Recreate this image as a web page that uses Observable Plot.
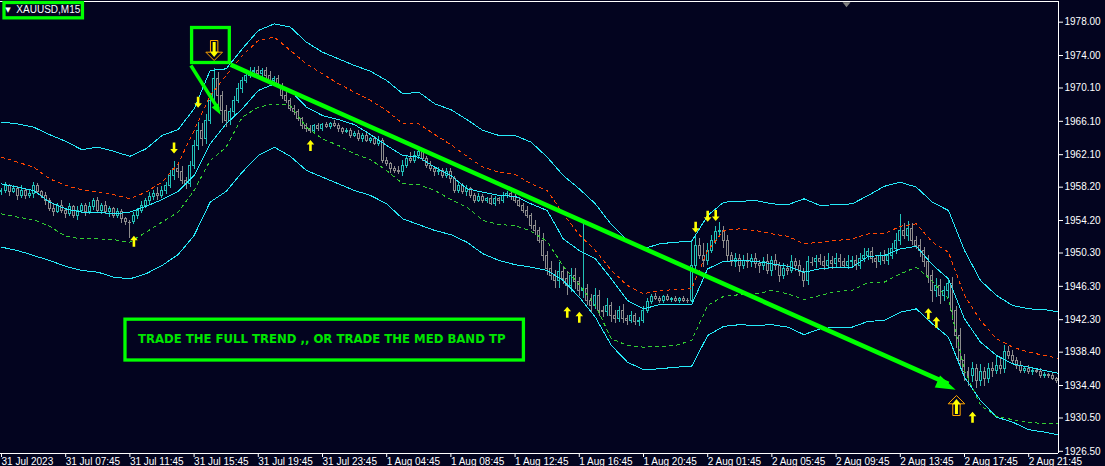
<!DOCTYPE html>
<html><head><meta charset="utf-8">
<script src="https://cdn.jsdelivr.net/npm/d3@7"></script>
<script src="https://cdn.jsdelivr.net/npm/@observablehq/plot@0.6"></script>
<style>
html,body{margin:0;padding:0;background:#03041f;}
#chart{width:1105px;height:466px;overflow:hidden;}
</style></head><body><div id="chart"></div>
<script>
// ---------- data ----------
const firstOpen = 1957.6;
const closes = [
1957.8,1958.3,1957.6,1958.0,1957.2,1957.8,1957.1,1957.4,1958.3,1957.6,1957.2,1956.6,1955.6,1955.2,1956.0,1955.4,
1955.0,1955.8,1954.8,1955.4,1956.0,1955.2,1955.8,1956.6,1955.4,1956.0,1955.2,1955.6,1954.8,1955.2,1954.4,1954.0,
1954.0,1954.8,1955.4,1956.0,1956.6,1957.0,1957.4,1957.2,1957.8,1958.4,1959.6,1960.4,1960.0,1959.0,1958.6,1960.8,
1963.2,1965.0,1964.0,1966.2,1968.6,1971.2,1969.2,1967.4,1966.2,1967.2,1968.6,1970.0,1971.0,1971.6,1972.0,1972.2,
1971.8,1972.2,1971.6,1971.0,1971.2,1970.4,1969.2,1968.6,1967.6,1967.2,1966.4,1965.6,1965.2,1965.0,1965.5,1965.2,
1965.7,1965.4,1965.8,1965.6,1965.2,1964.8,1965.0,1964.4,1964.6,1964.0,1964.4,1963.8,1964.0,1963.4,1963.8,1961.4,
1961.0,1960.4,1960.2,1960.0,1960.8,1961.6,1961.4,1962.0,1962.4,1961.6,1960.8,1960.4,1960.0,1960.2,1959.6,1960.0,
1959.2,1957.8,1958.4,1957.6,1958.0,1957.2,1956.6,1957.0,1956.6,1956.8,1956.2,1956.8,1956.5,1957.2,1957.4,1957.0,
1956.6,1956.0,1955.4,1954.8,1953.6,1953.0,1951.8,1950.0,1948.4,1947.6,1947.0,1948.0,1947.2,1946.4,1947.6,1946.8,
1945.8,1946.0,1944.6,1944.0,1945.2,1943.4,1943.2,1944.0,1942.8,1942.4,1943.4,1942.4,1942.2,1942.8,1942.0,1942.2,
1943.4,1944.4,1945.0,1944.8,1944.6,1945.0,1944.7,1944.8,1944.6,1944.8,1944.6,1944.6,1948.8,1951.2,1950.0,1949.4,
1950.6,1951.8,1952.8,1953.0,1951.8,1950.0,1949.2,1949.6,1948.8,1949.4,1949.2,1949.6,1949.0,1948.8,1949.2,1948.2,
1949.4,1948.8,1947.6,1948.4,1948.2,1949.2,1948.8,1948.0,1947.0,1949.2,1949.2,1949.6,1949.2,1948.8,1949.4,1949.0,
1949.6,1949.2,1948.8,1949.2,1949.4,1948.8,1949.6,1950.0,1950.4,1949.6,1949.2,1949.9,1949.4,1950.0,1950.8,1951.8,
1953.0,1952.4,1953.2,1951.8,1951.2,1950.6,1949.2,1947.6,1945.8,1946.4,1945.2,1945.8,1946.6,1943.4,1940.4,1937.4,
1936.0,1935.6,1936.4,1935.0,1936.0,1935.2,1936.4,1936.2,1936.8,1936.4,1938.4,1938.0,1937.4,1936.8,1936.2,1936.4,
1936.0,1936.2,1936.0,1935.6,1935.7,1935.5,1935.2,1935.0];
const upperWick = [
.3,.5,.2,.4,.3,.6,.2,.4,.5,.3,.2,.4,.3,.5,.2,.6,
.3,.4,.2,.5,.3,.2,.6,.3,.4,.2,.5,.3,.2,.4,.3,.2,
.2,.4,.3,.5,.3,.6,.4,.8,.5,.4,.6,.9,.5,.7,.4,.5,
.6,1.0,.8,.7,.9,1.2,.8,.5,.6,.4,.5,.6,.4,.5,.6,.4,
.5,.3,.4,.5,.3,.4,.3,.5,.2,.4,.3,.2,.3,.4,.2,.3,
.2,.3,.2,.4,.3,.2,.3,.2,.3,.4,.2,.3,.2,.3,.5,.3,
.4,.2,.3,.5,.6,.4,.8,.5,.3,.4,.3,.5,.2,.4,.3,.5,
.4,.3,.5,.3,.4,.2,.3,.4,.3,.2,.4,.3,.2,.4,.3,.2,
.3,.4,.2,.5,.3,.6,.4,.8,.5,.9,.6,1.2,.7,.9,.8,.8,
.6,7.8,.5,.7,.9,.6,.5,.8,.4,.6,.5,.7,.4,.5,.3,.4,
.5,.4,.3,.4,.3,.2,.3,.2,.3,.2,.3,.2,3.0,1.1,.8,1.5,
.9,.6,.7,1.0,.5,.6,.4,.7,.5,.6,.8,.5,.7,.4,.6,.9,
.5,.7,.4,.6,.5,.8,.4,.6,.5,.7,.6,.4,.5,.7,.9,.5,
.6,.5,.4,.8,.5,.6,.7,.9,.5,.6,.4,.5,.7,.8,.6,.9,
1.9,.8,.9,.6,.5,.7,.4,.8,.6,.9,.7,.5,.6,.8,.5,.9,
.7,.6,.8,.5,.9,.6,.7,.8,1.1,.9,.8,.7,.6,.4,.5,.3,
.4,.3,.2,.4,.3,.2,.3,.2];
const lowerWick = [
.4,.3,.5,.2,.6,.3,.4,.2,.5,.3,.4,.6,.3,.5,.2,.4,
.5,.3,.4,.6,.2,.5,.3,.4,.2,.5,.3,.6,.4,.3,.5,.4,
2.0,.3,.5,.4,.3,.5,.4,.6,.3,.5,.4,.6,.8,.5,.7,.4,
.5,.6,.9,.7,.5,.6,1.2,1.6,.8,.6,.5,.4,.6,.3,.4,.5,
.3,.4,.5,.3,.4,.3,.5,.4,.3,.4,.3,.5,.4,.3,.2,.3,
.3,.2,.3,.2,.4,.3,.2,.3,.2,.3,.4,.2,.3,.2,.3,.4,
.3,.5,.4,.3,.5,.4,.3,.4,.5,.3,.4,.3,.5,.4,.3,.4,
.5,.3,.4,.3,.5,.4,.3,.2,.4,.3,.2,.3,.4,.2,.3,.4,
.3,.2,.4,.3,.5,.6,.4,.7,.8,.6,.9,1.0,.7,1.2,.8,.9,
.7,.9,.6,.8,.5,.7,.6,.5,.8,.6,.4,.5,.6,.3,.4,.5,
.3,.4,.3,.2,.3,.4,.2,.3,.2,.3,.2,.3,.2,.7,.5,.8,
.6,.4,.5,.6,.9,.7,.5,.6,.8,.5,.7,.6,.5,.9,.6,.5,
.7,.6,.8,.5,.6,.4,.7,.5,.8,.6,.5,.7,.4,.6,.5,.7,
.5,.6,.4,.5,.7,.6,.5,.4,.6,.5,.7,.4,.5,.6,.5,.7,
.6,.5,.7,.6,.5,.8,.6,.9,1.4,.8,1.1,.7,.9,1.2,1.5,1.0,
1.1,1.3,.8,1.0,.7,.9,.6,.8,.5,.7,.6,.5,.4,.5,.3,.4,
.3,.4,.2,.3,.4,.3,.2,.3];

// band lines, sampled every 4 bars (bar 0,4,...,264)
const bandOuterUpper = [
1966.0,1965.8,1965.4,1964.5,1963.7,1962.7,1963.0,1962.5,1961.9,1962.8,
1964.4,1965.1,1967.6,1972.2,1972.4,1974.8,1977.0,1977.8,1977.4,1975.6,
1974.4,1973.6,1972.8,1972.1,1971.0,1969.4,1969.6,1968.2,1967.5,1966.3,
1965.0,1964.4,1964.4,1963.6,1961.8,1959.6,1958.0,1956.2,1953.7,1951.8,
1950.8,1951.4,1951.6,1951.7,1954.8,1956.4,1956.5,1956.6,1956.2,1956.1,
1956.8,1956.0,1956.1,1956.2,1957.2,1958.3,1958.8,1958.2,1956.4,1955.4,
1950.6,1947.0,1945.2,1944.0,1943.6,1943.5,1943.2];
const bandRed = [
1961.8,1961.2,1960.6,1959.2,1958.4,1957.9,1957.6,1957.3,1956.8,1957.6,
1958.8,1961.0,1965.0,1969.2,1971.6,1974.0,1975.8,1976.2,1974.6,1973.0,
1971.8,1970.6,1969.6,1968.6,1967.4,1965.8,1965.8,1964.5,1963.3,1961.9,
1960.6,1960.0,1959.7,1958.6,1957.8,1955.0,1952.5,1950.6,1948.2,1946.4,
1945.4,1945.8,1945.9,1946.0,1950.6,1953.0,1953.2,1953.0,1952.6,1952.3,
1951.4,1951.6,1951.8,1952.0,1952.6,1952.6,1953.5,1953.8,1951.6,1950.4,
1945.2,1942.2,1940.0,1939.0,1938.4,1938.0,1937.6];
const bandMiddle = [
1958.6,1958.2,1957.8,1956.4,1955.6,1955.2,1955.2,1955.0,1955.2,1955.9,
1956.7,1957.7,1959.6,1963.4,1965.8,1967.6,1969.8,1970.6,1969.8,1967.8,
1966.8,1966.3,1965.7,1964.5,1963.2,1962.0,1961.8,1960.6,1959.6,1958.0,
1957.6,1957.2,1957.1,1956.2,1955.4,1952.0,1950.6,1949.6,1947.2,1944.6,
1943.6,1944.1,1944.1,1944.1,1948.4,1949.3,1949.4,1949.3,1949.0,1948.7,
1948.0,1948.4,1948.6,1948.6,1949.9,1950.0,1950.8,1951.1,1948.9,1947.2,
1942.4,1939.6,1938.0,1937.0,1936.6,1936.2,1935.8];
const bandGreen = [
1955.0,1954.6,1954.3,1953.5,1952.3,1952.0,1952.0,1951.9,1951.6,1952.8,
1954.0,1955.2,1957.8,1961.4,1963.0,1966.6,1967.8,1968.2,1968.0,1965.4,
1964.0,1963.2,1962.2,1961.5,1960.2,1958.6,1958.5,1957.8,1956.7,1955.8,
1954.2,1953.7,1953.6,1952.9,1951.7,1948.7,1946.5,1944.0,1940.0,1939.2,
1939.0,1939.1,1939.2,1939.8,1944.0,1945.1,1945.3,1945.4,1945.8,1945.4,
1944.7,1945.2,1945.7,1945.8,1946.8,1946.8,1947.8,1948.6,1946.9,1944.8,
1936.2,1932.0,1930.7,1930.3,1930.0,1929.8,1929.8];
const bandOuterLower = [
1951.0,1950.6,1950.0,1949.4,1948.7,1948.2,1948.0,1947.4,1947.2,1947.8,
1948.8,1950.1,1952.4,1956.4,1957.7,1960.0,1962.0,1963.0,1961.9,1960.2,
1959.4,1958.6,1957.8,1957.2,1956.2,1954.4,1953.7,1953.0,1952.5,1951.6,
1950.2,1949.4,1948.9,1948.6,1948.2,1947.0,1945.0,1942.6,1939.2,1937.2,
1936.3,1936.4,1936.6,1936.7,1940.4,1941.5,1941.7,1941.6,1941.7,1941.4,
1940.5,1941.2,1941.4,1941.4,1942.1,1942.2,1943.2,1943.6,1941.8,1940.2,
1935.4,1932.6,1930.6,1930.0,1929.1,1928.8,1928.4];

// signal arrows (bar index, price)
const sellSignals = [{bar:43,price:1962.9},{bar:49,price:1968.4},{bar:173,price:1953.4},{bar:176,price:1954.7},{bar:178,price:1954.8}];
const buySignals = [{bar:33,price:1951.7},{bar:77,price:1963.2},{bar:141,price:1943.2},{bar:144,price:1942.6},{bar:231,price:1943.0},{bar:233,price:1942.0},{bar:242,price:1930.6}];
const bigSell = [{bar:53,price:1974.6}];
const bigBuy = [{bar:238,price:1932.0}];
const shiftMarker = [{bar:210.6, price:1980.1}];

// axis ticks
const yTicks = [1978.00,1974.00,1970.10,1966.10,1962.10,1958.20,1954.20,1950.30,1946.30,1942.30,1938.40,1934.40,1930.50,1926.50];
const xTickBars = [0,16,32,48,64,80,96,112,128,144,160,176,192,208,224,240,256];
const xTickLabels = ["31 Jul 2023","31 Jul 07:45","31 Jul 11:45","31 Jul 15:45","31 Jul 19:45","31 Jul 23:45","1 Aug 04:45","1 Aug 08:45","1 Aug 12:45","1 Aug 16:45","1 Aug 20:45","2 Aug 01:45","2 Aug 05:45","2 Aug 09:45","2 Aug 13:45","2 Aug 17:45","2 Aug 21:45"];

// annotations (bar index, price)
const boxes = [
  {x1:0.75, x2:20.3, y1:1980.3, y2:1978.46},
  {x1:47.5, x2:56.9, y1:1977.3, y2:1973.1},
  {x1:30.9, x2:130.2, y1:1942.3, y2:1937.4}
];
const trendLong = [{x1:57.1, y1:1972.9, x2:236.0, y2:1934.6}];
const trendShort = [{x1:47.2, y1:1972.8, x2:54.0, y2:1967.6}];
const longTip = [{bar:237.8, price:1933.9}];
const shortTip = [{bar:54.6, price:1966.9}];
const notes = [{bar:79.8, price:1939.9, text:"TRADE THE FULL TREND ,, OR TRADE THE MED BAND TP"}];
const symbolLabel = [{bar:3.7, price:1979.45, text:"XAUUSD,M15"}];
const symbolMarker = [{bar:1.6, price:1979.45, text:"▼"}];

// ---------- derived tables ----------
const BG = "#03041f", BULL = "#22c2b8", BEAR = "#8c8c8c", CYAN = "#26ecfa",
      RED = "#ff4500", GREEN = "#32cd32", LIME = "#00ff00", YELLOW = "#ffff00", ORANGE = "#ffa500";
const candles = closes.map((c, k) => {
  const o = k === 0 ? firstOpen : closes[k - 1];
  return {k, open: o, close: c, high: Math.max(o, c) + upperWick[k], low: Math.min(o, c) - lowerWick[k]};
});
const bulls = candles.filter(d => d.close > d.open);
const bears = candles.filter(d => d.close < d.open);
const dojis = candles.filter(d => d.close === d.open);
const bandBars = bandOuterUpper.map((_, j) => j * 4);
const band = (arr) => arr.map((v, j) => ({k: bandBars[j], v}));

// custom symbols
const upArrow = {draw(c){c.moveTo(0,-5.5);c.lineTo(3.8,-1);c.lineTo(1.3,-1);c.lineTo(1.3,5.5);c.lineTo(-1.3,5.5);c.lineTo(-1.3,-1);c.lineTo(-3.8,-1);c.closePath();}};
const downArrow = {draw(c){c.moveTo(0,5.5);c.lineTo(3.8,1);c.lineTo(1.3,1);c.lineTo(1.3,-5.5);c.lineTo(-1.3,-5.5);c.lineTo(-1.3,1);c.lineTo(-3.8,1);c.closePath();}};
const bigDownOutline = {draw(c){c.moveTo(-3.7,-10);c.lineTo(3.7,-10);c.lineTo(3.7,1.7);c.lineTo(8.3,1.7);c.lineTo(0,10);c.lineTo(-8.3,1.7);c.lineTo(-3.7,1.7);c.closePath();}};
const bigDownInner = {draw(c){c.moveTo(-1.5,-8.5);c.lineTo(1.5,-8.5);c.lineTo(1.5,1);c.lineTo(4.5,1);c.lineTo(0,6.5);c.lineTo(-4.5,1);c.lineTo(-1.5,1);c.closePath();}};
const bigUpOutline = {draw(c){c.moveTo(-3.7,10);c.lineTo(3.7,10);c.lineTo(3.7,-1.7);c.lineTo(8.3,-1.7);c.lineTo(0,-10);c.lineTo(-8.3,-1.7);c.lineTo(-3.7,-1.7);c.closePath();}};
const bigUpInner = {draw(c){c.moveTo(-1.5,8.5);c.lineTo(1.5,8.5);c.lineTo(1.5,-1);c.lineTo(4.5,-1);c.lineTo(0,-6.5);c.lineTo(-4.5,-1);c.lineTo(-1.5,-1);c.closePath();}};
const smallTri = {draw(c){c.moveTo(-4,-2.5);c.lineTo(4,-2.5);c.lineTo(0,2.5);c.closePath();}};
// filled arrowhead with its tip at the origin, pointing along angle (degrees)
function headSymbol(angle, len, wid) {
  const a = angle * Math.PI / 180, ca = Math.cos(a), sa = Math.sin(a);
  const pt = (x, y) => [x * ca - y * sa, x * sa + y * ca];
  return {draw(c){
    const p1 = pt(-len, -wid), p2 = pt(-len, wid);
    c.moveTo(0, 0); c.lineTo(p1[0], p1[1]); c.lineTo(p2[0], p2[1]); c.closePath();
  }};
}

const xDomain = [-0.249, 263.43];
const yDomain = [1926.24, 1980.48];
const half = 0.249;
const crisp = {shapeRendering: "crispEdges", clip: true};

const chart = Plot.plot({
  width: 1105, height: 466,
  marginLeft: 0, marginRight: 47, marginTop: 1, marginBottom: 13,
  style: {background: BG, color: "white", fontFamily: "Liberation Sans", fontSize: "10px"},
  x: {domain: xDomain, axis: null},
  y: {domain: yDomain, axis: null},
  marks: [
    // candles
    Plot.ruleX(bulls, {x: "k", y1: "low", y2: "high", stroke: BULL, ...crisp}),
    Plot.ruleX(bears, {x: "k", y1: "low", y2: "high", stroke: BEAR, ...crisp}),
    Plot.ruleX(dojis, {x: "k", y1: "low", y2: "high", stroke: BEAR, ...crisp}),
    Plot.rect(bulls, {x1: d => d.k - half, x2: d => d.k + half, y1: "open", y2: "close", fill: BG, stroke: BULL, ...crisp}),
    Plot.rect(bears, {x1: d => d.k - half, x2: d => d.k + half, y1: "open", y2: "close", fill: BG, stroke: BEAR, ...crisp}),
    Plot.ruleY(dojis, {y: "close", x1: d => d.k - 1.5*half, x2: d => d.k + 1.5*half, stroke: BEAR, ...crisp}),
    // bands
    Plot.line(band(bandOuterUpper), {x: "k", y: "v", stroke: CYAN, strokeWidth: 1, ...crisp}),
    Plot.line(band(bandOuterLower), {x: "k", y: "v", stroke: CYAN, strokeWidth: 1, ...crisp}),
    Plot.line(band(bandMiddle), {x: "k", y: "v", stroke: CYAN, strokeWidth: 1, ...crisp}),
    Plot.line(band(bandRed), {x: "k", y: "v", stroke: RED, strokeWidth: 1, strokeDasharray: "3,4", ...crisp}),
    Plot.line(band(bandGreen), {x: "k", y: "v", stroke: GREEN, strokeWidth: 1, strokeDasharray: "3,4", ...crisp}),
    // signals
    Plot.dot(sellSignals, {x: "bar", y: "price", symbol: downArrow, fill: YELLOW, stroke: "none"}),
    Plot.dot(buySignals, {x: "bar", y: "price", symbol: upArrow, fill: YELLOW, stroke: "none"}),
    Plot.dot(bigSell, {x: "bar", y: "price", symbol: bigDownInner, fill: YELLOW, stroke: "none"}),
    Plot.dot(bigSell, {x: "bar", y: "price", symbol: bigDownOutline, fill: "none", stroke: ORANGE, strokeWidth: 1}),
    Plot.dot(bigBuy, {x: "bar", y: "price", symbol: bigUpInner, fill: YELLOW, stroke: "none"}),
    Plot.dot(bigBuy, {x: "bar", y: "price", symbol: bigUpOutline, fill: "none", stroke: ORANGE, strokeWidth: 1}),
    // frame lines
    Plot.ruleY([yDomain[1]], {stroke: "white"}),
    Plot.ruleY([yDomain[0]], {stroke: "white"}),
    Plot.ruleX([xDomain[1]], {stroke: "white"}),
    Plot.dot(shiftMarker, {x: "bar", y: "price", symbol: smallTri, fill: "#808080", stroke: "none"}),
    // axes
    Plot.axisY(yTicks, {anchor: "right", tickSize: 4, tickPadding: 2, tickFormat: d => d.toFixed(2), fontSize: 10}),
    Plot.axisX(xTickBars, {anchor: "bottom", tickSize: 4, tickPadding: 0, textAnchor: "start", dx: 0, fontSize: 10,
      tickFormat: d => xTickLabels[xTickBars.indexOf(d)]}),
    // annotations
    Plot.rect(boxes, {x1: "x1", x2: "x2", y1: "y1", y2: "y2", fill: "none", stroke: LIME, strokeWidth: 3.3}),
    Plot.link(trendLong, {x1: "x1", y1: "y1", x2: "x2", y2: "y2", stroke: LIME, strokeWidth: 4.5}),
    Plot.link(trendShort, {x1: "x1", y1: "y1", x2: "x2", y2: "y2", stroke: LIME, strokeWidth: 3.5}),
    Plot.dot(longTip, {x: "bar", y: "price", symbol: headSymbol(24.1, 20, 6.5), fill: LIME, stroke: "none"}),
    Plot.dot(shortTip, {x: "bar", y: "price", symbol: headSymbol(60, 11, 4), fill: LIME, stroke: "none"}),
    Plot.text(notes, {x: "bar", y: "price", text: "text", fill: "#00e600", fontSize: 11.7, fontWeight: "bold", fontFamily: "DejaVu Sans"}),
    Plot.text(symbolLabel, {x: "bar", y: "price", text: "text", fill: "white", fontSize: 10, textAnchor: "start"}),
    Plot.text(symbolMarker, {x: "bar", y: "price", text: "text", fill: "white", fontSize: 7, fontFamily: "DejaVu Sans"})
  ]
});
document.getElementById("chart").append(chart);
</script>
</body></html>
